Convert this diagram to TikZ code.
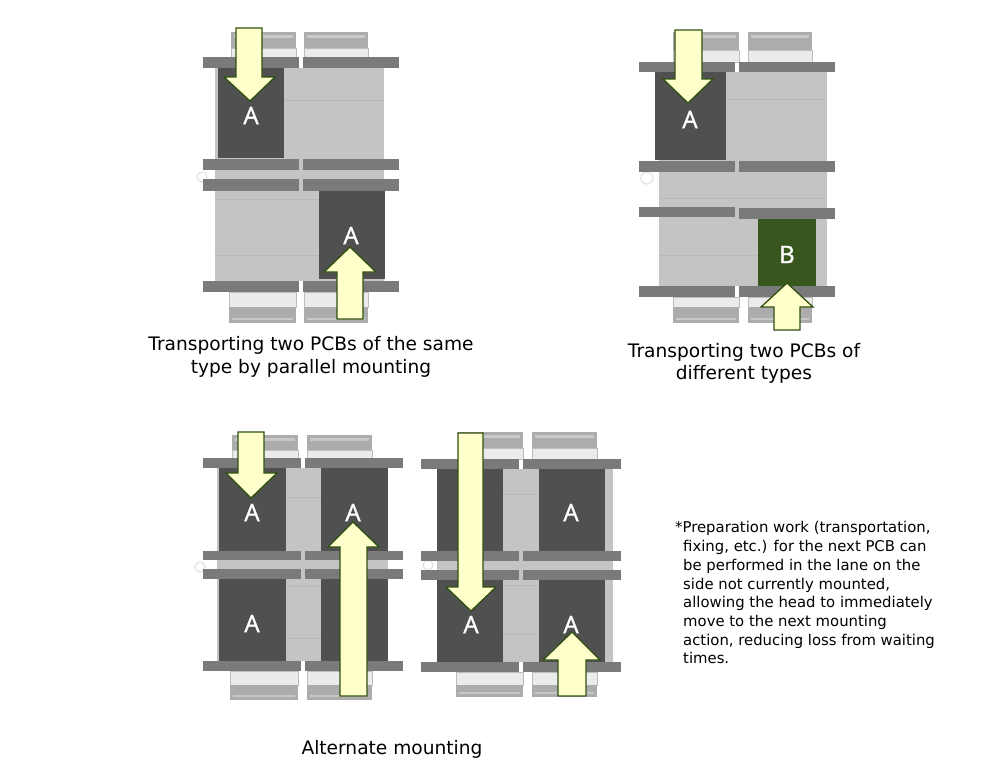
\documentclass[tikz,border=0pt]{standalone}
\usepackage{fontspec}
\setmainfont{DejaVu Sans}
\newfontfamily\pcbfont[FakeBold=1.3]{Open Sans}
\definecolor{railgray}{HTML}{7A7A7A}
\definecolor{pcbdark}{HTML}{505050}
\definecolor{pcbgreen}{HTML}{38571F}
\definecolor{baygray}{HTML}{C4C4C4}
\definecolor{bayline}{HTML}{B8B8B8}
\definecolor{traygray}{HTML}{ACACAC}
\definecolor{traylight}{HTML}{C8C8C8}
\definecolor{stripgray}{HTML}{EBEBEB}
\definecolor{stripedge}{HTML}{BDBDBD}
\definecolor{faint}{HTML}{E6E6E6}
\definecolor{arrowfill}{HTML}{FFFFCC}
\definecolor{arrowedge}{HTML}{2F5010}
\tikzset{
  rail/.style={fill=railgray,draw=none},
  pcb/.style={fill=pcbdark,draw=none},
  pcbgr/.style={fill=pcbgreen,draw=none},
  bay/.style={fill=baygray,draw=none},
  tray/.style={fill=traygray,draw=none},
  trayband/.style={fill=traylight,draw=none},
  strip/.style={fill=stripgray,draw=stripedge,line width=0.8pt},
  seam/.style={draw=bayline,line width=0.6pt},
  marker/.style={draw=faint,line width=1.4pt,fill=white},
  flow/.style={fill=arrowfill,draw=arrowedge,line width=1.3pt,line join=miter,miter limit=10},
  pcblabel/.style={text=white,font=\pcbfont\fontsize{24}{24}\selectfont,inner sep=0pt},
  caption/.style={font=\fontsize{18.6}{22.5}\selectfont,align=center,inner sep=0pt,text=black},
  note/.style={font=\fontsize{14.85}{18.7}\selectfont,align=left,inner sep=0pt,text=black}
}
% box from x1,y1 to x2,y2 in a given style
\newcommand{\bx}[5]{\path[#1] (#2,#3) rectangle (#4,#5);}
% conveyor end modules: x1,x2 outer limits, then three y levels
\newcommand{\traytop}[5]{%
  \bx{strip}{#1}{#4}{#2}{#5}
  \bx{tray}{#1}{#3}{#2}{#4}
  \bx{trayband}{#1+3}{#3+3}{#2-3}{#3+6}}
\newcommand{\traybot}[5]{%
  \bx{strip}{#1}{#3}{#2}{#4}
  \bx{tray}{#1}{#4}{#2}{#5}
  \bx{trayband}{#1+3}{#5-5}{#2-3}{#5-3}}
% arrow: shaft x1,x2; tail y; shoulder y; head x1,x2; unused; tip x,y
\newcommand{\flowarrow}[9]{%
  \draw[flow] (#1,#3) -- (#2,#3) -- (#2,#4) -- (#6,#4) -- (#8,#9) -- (#5,#4) -- (#1,#4) -- cycle;}
\begin{document}
\begin{tikzpicture}[x=1pt,y=-1pt]
\useasboundingbox (0,0) rectangle (1000,772);

% ---- parallel mounting, same type ----
\traytop{231}{296}{32}{48}{57}
\traytop{304}{368}{32}{48}{57}
\traybot{229}{296}{292}{307}{323}
\traybot{304}{368}{292}{307}{323}
\draw[marker] (202,177) circle (5);
\bx{bay}{215}{68}{384}{281}
\draw[seam] (284,100) -- (384,100) (215,199) -- (319,199) (215,255) -- (319,255);
\bx{pcb}{218}{68}{284}{158}
\bx{pcb}{319}{191}{385}{279}
\bx{rail}{203}{57}{299}{68}
\bx{rail}{303}{57}{399}{68}
\bx{rail}{203}{159}{299}{170}
\bx{rail}{303}{159}{399}{170}
\bx{rail}{203}{179}{299}{191}
\bx{rail}{303}{179}{399}{191}
\bx{rail}{203}{281}{299}{292}
\bx{rail}{303}{281}{399}{292}
\node[pcblabel] (a1) at (251,115.5) {A};
\node[pcblabel] (a2) at (351,235.5) {A};
\flowarrow{236}{262}{28}{77}{224}{275}{0}{250}{101}
\flowarrow{337}{363}{319}{272}{324}{376}{0}{350}{247}
\node[caption] (cap1) at (311,357) {Transporting two PCBs of the same\\type by parallel mounting};

% ---- parallel mounting, different types ----
\traytop{673}{739}{32}{50}{62}
\traytop{748}{812}{32}{50}{62}
\traybot{673}{739}{297}{307}{323}
\traybot{748}{812}{297}{307}{323}
\draw[marker] (647,178) circle (6);
\bx{bay}{659}{72}{827}{286}
\draw[seam] (726,99) -- (827,99) (659,198) -- (827,198) (659,255) -- (758,255);
\bx{pcb}{655}{72}{726}{160}
\bx{pcbgr}{758}{219}{816}{286}
\bx{rail}{639}{62}{735}{72}
\bx{rail}{739}{62}{835}{72}
\bx{rail}{639}{161}{735}{172}
\bx{rail}{739}{161}{835}{172}
\bx{rail}{639}{207}{735}{217}
\bx{rail}{739}{208}{835}{219}
\bx{rail}{639}{286}{735}{297}
\bx{rail}{739}{286}{835}{297}
\node[pcblabel] (a3) at (690,119.5) {A};
\node[pcblabel] (b1) at (787,254.5) {B};
\flowarrow{675}{702}{30}{79}{663}{713}{0}{688}{103}
\flowarrow{774}{800}{330}{307}{761}{813}{0}{787}{283}
\node[caption] (cap2) at (744,363.5) {Transporting two PCBs of\\different types};

% ---- alternate mounting, first head ----
\traytop{232}{298}{435}{450}{458}
\traytop{307}{372}{435}{450}{458}
\traybot{230}{298}{671}{685}{700}
\traybot{307}{372}{671}{685}{700}
\draw[marker] (200,567) circle (5);
\bx{bay}{217}{468}{388}{661}
\draw[seam] (286,497) -- (321,497) (286,586) -- (321,586) (286,638) -- (321,638);
\bx{pcb}{219}{468}{286}{551}
\bx{pcb}{321}{468}{388}{551}
\bx{pcb}{219}{579}{286}{661}
\bx{pcb}{321}{579}{388}{661}
\bx{rail}{203}{458}{301}{468}
\bx{rail}{305}{458}{403}{468}
\bx{rail}{203}{551}{301}{560}
\bx{rail}{305}{551}{403}{560}
\bx{rail}{203}{569}{301}{579}
\bx{rail}{305}{569}{403}{579}
\bx{rail}{203}{661}{301}{671}
\bx{rail}{305}{661}{403}{671}
\node[pcblabel] (a4) at (252,512.5) {A};
\node[pcblabel] (a5) at (353,512.5) {A};
\node[pcblabel] (a6) at (252,623.5) {A};
\flowarrow{238}{264}{432}{473}{226}{277}{0}{251}{498}
\flowarrow{340}{367}{696}{547}{328}{379}{0}{353}{522}

% ---- alternate mounting, second head ----
\traytop{458}{523}{432}{448}{459}
\traytop{532}{597}{432}{448}{459}
\traybot{456}{523}{672}{685}{697}
\traybot{532}{597}{672}{685}{697}
\draw[marker] (428,565) circle (5);
\bx{bay}{437}{469}{613}{662}
\draw[seam] (503,494) -- (539,494) (503,585) -- (539,585) (503,634) -- (539,634);
\bx{pcb}{437}{469}{503}{551}
\bx{pcb}{539}{469}{605}{551}
\bx{pcb}{437}{580}{503}{662}
\bx{pcb}{539}{580}{605}{662}
\bx{rail}{421}{459}{519}{469}
\bx{rail}{523}{459}{621}{469}
\bx{rail}{421}{551}{519}{561}
\bx{rail}{523}{551}{621}{561}
\bx{rail}{421}{570}{519}{580}
\bx{rail}{523}{570}{621}{580}
\bx{rail}{421}{662}{519}{672}
\bx{rail}{523}{662}{621}{672}
\node[pcblabel] (a7) at (571,512.5) {A};
\node[pcblabel] (a8) at (471,624.5) {A};
\node[pcblabel] (a9) at (571,624.5) {A};
\flowarrow{458}{483}{433}{587}{446}{496}{0}{471}{611}
\flowarrow{558}{586}{696}{660}{543}{600}{0}{572}{632}

\node[caption] (cap3) at (392,749) {Alternate mounting};
\node[note,anchor=north west] (note1) at (675,521.5) {*Preparation work (transportation,\\
\hspace*{8pt}fixing, etc.) for the next PCB can\\
\hspace*{8pt}be performed in the lane on the\\
\hspace*{8pt}side not currently mounted,\\
\hspace*{8pt}allowing the head to immediately\\
\hspace*{8pt}move to the next mounting\\
\hspace*{8pt}action, reducing loss from waiting\\
\hspace*{8pt}times.};
\end{tikzpicture}
\end{document}
